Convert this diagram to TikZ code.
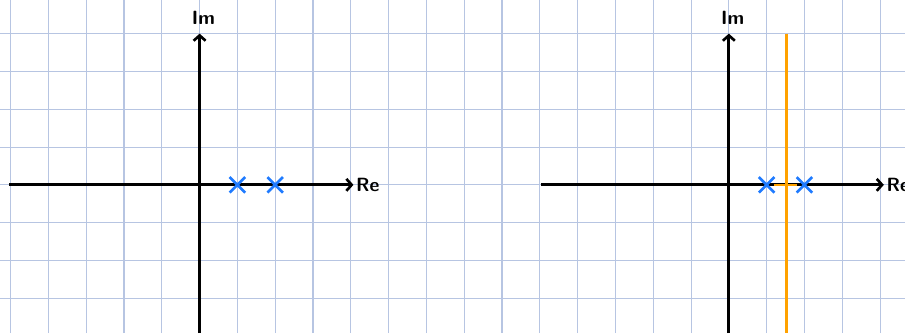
\documentclass[tikz,border=0pt]{standalone}
\usepackage{xcolor}
\usepackage{tikz}
\usetikzlibrary{arrows.meta,shapes.misc}
\definecolor{ink}     {HTML}{000000}
\definecolor{gridblue}{HTML}{B7C5E2}
\definecolor{poleblue}{HTML}{1F7BFF}
\definecolor{locus}   {HTML}{FFA200}

\begin{document}
\begin{tikzpicture}[x=1cm,y=1cm,
  axis/.style={ink, line width=2.2pt, -{Straight Barb[length=4pt,width=9pt,line width=2pt]}},
  pole/.style={cross out, draw=poleblue, line width=2pt, minimum size=0.34cm, inner sep=0pt},
  branch/.style={locus, line width=2pt},
  lbl/.style={font=\Large\sffamily\bfseries, color=ink, inner sep=1pt}]
 \useasboundingbox (-5.28,-3.92) rectangle (18.66,4.89);
 \draw[gridblue, line width=0.8pt] (-5.28,-3.92) grid (18.66,4.89);
 % left plane: open-loop poles
 \begin{scope}
  \coordinate (reLa) at (-5.03,0);
  \coordinate (reRa) at (4.07,0);
  \coordinate (imBa) at (0,-3.92);
  \coordinate (imTa) at (0,4.0);
  \draw[axis] (reLa) -- (reRa);
  \draw[axis] (imBa) -- (imTa);
  \node[lbl, anchor=west] (reA) at (4.1,0) {Re};
  \node[lbl] (imA) at (0.1,4.42) {Im};
  \node[pole] (pa1) at (1,0) {};
  \node[pole] (pa2) at (2,0) {};
 \end{scope}
 % right plane: poles with locus
 \begin{scope}[xshift=14cm]
  \coordinate (reLb) at (-4.97,0);
  \coordinate (reRb) at (4.10,0);
  \coordinate (imBb) at (0,-3.92);
  \coordinate (imTb) at (0,4.0);
  \coordinate (brT) at (1.52,4.0);
  \coordinate (brB) at (1.52,-3.92);
  \draw[axis] (reLb) -- (reRb);
  \draw[axis] (imBb) -- (imTb);
  \node[lbl, anchor=west] (reB) at (4.13,0) {Re};
  \node[lbl] (imB) at (0.1,4.42) {Im};
  \draw[branch] (brT) -- (brB);
  \node[pole] (pb1) at (1,0) {};
  \node[pole] (pb2) at (2,0) {};
  \draw[branch] (pb1) -- (pb2);
 \end{scope}
\end{tikzpicture}
\end{document}
